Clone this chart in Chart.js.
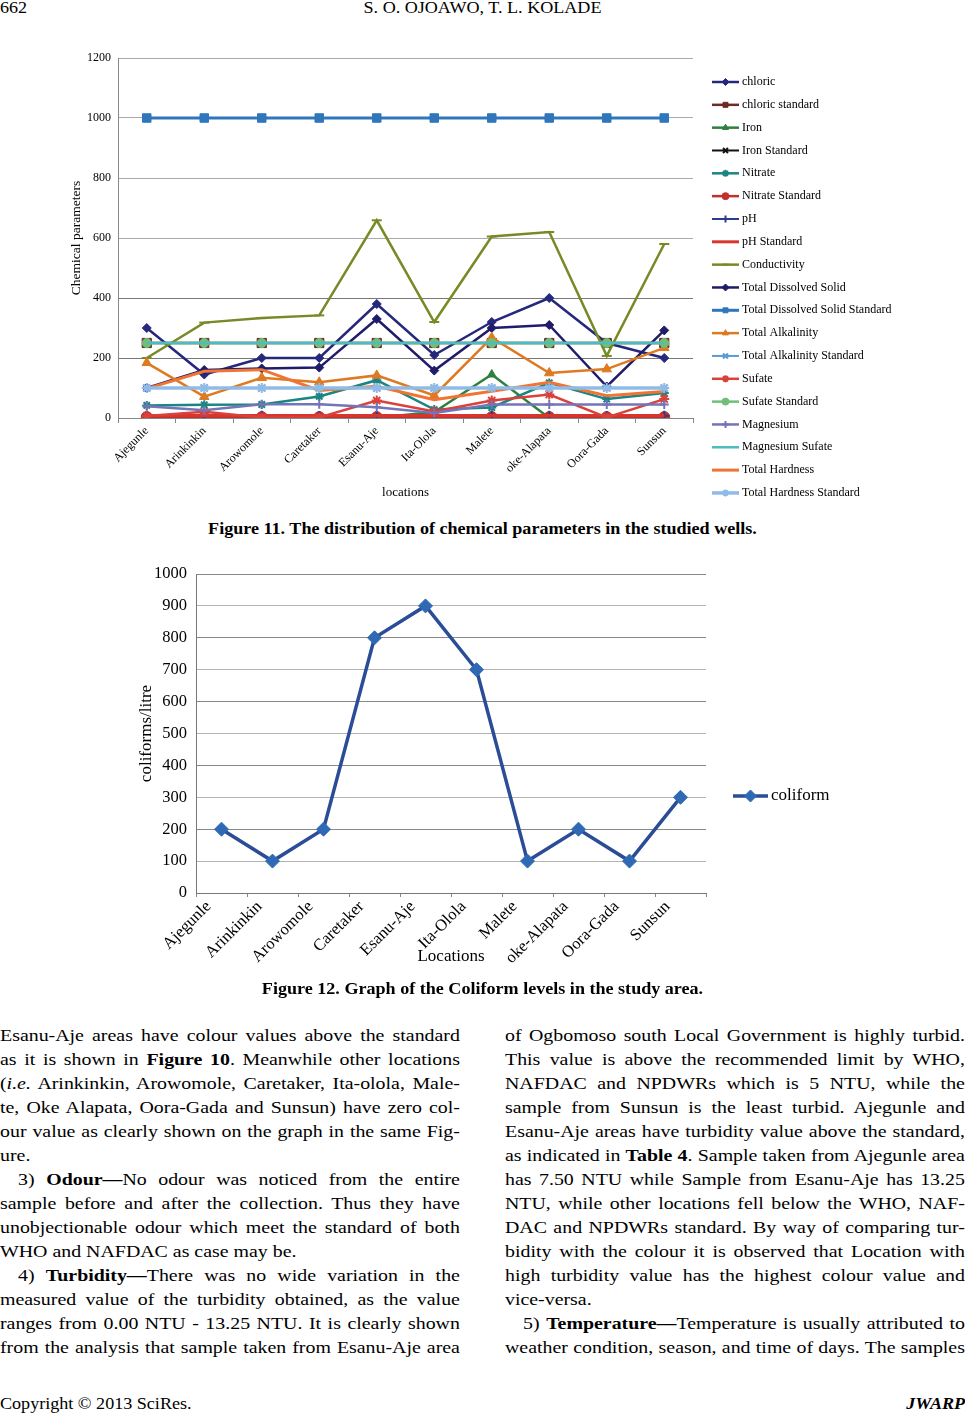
<!DOCTYPE html>
<html>
<head>
<meta charset="utf-8">
<script src="https://cdn.jsdelivr.net/npm/chart.js@4.4.1/dist/chart.umd.min.js"></script>
<style>
  html, body { margin: 0; padding: 0; background: #fff; }
  body { width: 965px; height: 1414px; position: relative; overflow: hidden;
         font-family: "Liberation Serif", "Times New Roman", serif; color: #000; }
  .abs { position: absolute; white-space: nowrap; }
  .wide { transform: scaleX(1.13); }
  canvas { position: absolute; left: 0; }
  .col { position: absolute; width: 407px; font-size: 17.6px; line-height: 24px;
         transform: scaleX(1.13); transform-origin: 0 0; }
  .col div { text-align: justify; text-align-last: justify; white-space: nowrap; }
  .col div.end { text-align-last: left; }
  .col div.ind { padding-left: 16px; }
</style>
</head>
<body>

<div class="abs wide" style="left:0;top:-1px;font-size:16px;transform-origin:0 0;">662</div>
<div class="abs wide" style="left:0;width:965px;top:-1px;font-size:16px;text-align:center;">S. O. OJOAWO, T. L. KOLADE</div>

<canvas id="chem" width="965" height="470" style="top:40px;"></canvas>
<div class="abs wide" style="left:0;width:965px;top:520px;font-size:16px;font-weight:bold;text-align:center;">Figure 11. The distribution of chemical parameters in the studied wells.</div>

<canvas id="coli" width="965" height="430" style="top:555px;"></canvas>
<div class="abs wide" style="left:0;width:965px;top:980px;font-size:16px;font-weight:bold;text-align:center;">Figure 12. Graph of the Coliform levels in the study area.</div>

<div class="col" style="left:0;top:1023px;">
  <div>Esanu-Aje areas have colour values above the standard</div>
  <div>as it is shown in <b>Figure 10</b>. Meanwhile other locations</div>
  <div>(<i>i.e.</i> Arinkinkin, Arowomole, Caretaker, Ita-olola, Male-</div>
  <div>te, Oke Alapata, Oora-Gada and Sunsun) have zero col-</div>
  <div>our value as clearly shown on the graph in the same Fig-</div>
  <div class="end">ure.</div>
  <div class="ind">3) <b>Odour—</b>No odour was noticed from the entire</div>
  <div>sample before and after the collection. Thus they have</div>
  <div>unobjectionable odour which meet the standard of both</div>
  <div class="end">WHO and NAFDAC as case may be.</div>
  <div class="ind">4) <b>Turbidity—</b>There was no wide variation in the</div>
  <div>measured value of the turbidity obtained, as the value</div>
  <div>ranges from 0.00 NTU - 13.25 NTU. It is clearly shown</div>
  <div>from the analysis that sample taken from Esanu-Aje area</div>
</div>

<div class="col" style="left:505px;top:1023px;">
  <div>of Ogbomoso south Local Government is highly turbid.</div>
  <div>This value is above the recommended limit by WHO,</div>
  <div>NAFDAC and NPDWRs which is 5 NTU, while the</div>
  <div>sample from Sunsun is the least turbid. Ajegunle and</div>
  <div>Esanu-Aje areas have turbidity value above the standard,</div>
  <div>as indicated in <b>Table 4</b>. Sample taken from Ajegunle area</div>
  <div>has 7.50 NTU while Sample from Esanu-Aje has 13.25</div>
  <div>NTU, while other locations fell below the WHO, NAF-</div>
  <div>DAC and NPDWRs standard. By way of comparing tur-</div>
  <div>bidity with the colour it is observed that Location with</div>
  <div>high turbidity value has the highest colour value and</div>
  <div class="end">vice-versa.</div>
  <div class="ind">5) <b>Temperature—</b>Temperature is usually attributed to</div>
  <div>weather condition, season, and time of days. The samples</div>
</div>

<div class="abs wide" style="left:0;top:1395px;font-size:16px;transform-origin:0 0;">Copyright © 2013 SciRes.</div>
<div class="abs wide" style="right:0;top:1395px;font-size:16px;font-weight:bold;font-style:italic;transform-origin:100% 0;">JWARP</div>

<script>
/* ================= DATA ================= */
const locations = ["Ajegunle", "Arinkinkin", "Arowomole", "Caretaker", "Esanu-Aje",
                   "Ita-Olola", "Malete", "oke-Alapata", "Oora-Gada", "Sunsun"];

const chloric          = [300, 145, 200, 200, 380, 210, 320, 400, 250, 200];
const chloricStd       = [250, 250, 250, 250, 250, 250, 250, 250, 250, 250];
const iron             = [0.3, 0.5, 0.2, 0.4, 0.6, 20, 145, 0.2, 0.1, 0.3];
const ironStd          = [0.3, 0.3, 0.3, 0.3, 0.3, 0.3, 0.3, 0.3, 0.3, 0.3];
const nitrate          = [42, 44, 45, 72, 126, 28, 35, 117, 63, 83];
const nitrateStd       = [3, 3, 3, 3, 3, 3, 3, 3, 3, 3];
const ph               = [7.1, 6.8, 7.2, 6.9, 7.4, 7.0, 6.7, 7.3, 6.9, 7.1];
const phStd            = [8.5, 8.5, 8.5, 8.5, 8.5, 8.5, 8.5, 8.5, 8.5, 8.5];
const conductivity     = [200, 318, 333, 342, 659, 320, 605, 620, 207, 580];
const tds              = [100, 160, 165, 168, 330, 158, 300, 310, 105, 292];
const tdsStd           = [1000, 1000, 1000, 1000, 1000, 1000, 1000, 1000, 1000, 1000];
const alkalinity       = [184, 71, 134, 119, 142, 75, 268, 150, 163, 234];
const alkalinityStd    = [100, 100, 100, 100, 100, 100, 100, 100, 100, 100];
const sulfate          = [7, 21, 2, 2, 58, 22, 58, 78, 2, 63];
const sulfateStd       = [250, 250, 250, 250, 250, 250, 250, 250, 250, 250];
const magnesium        = [39, 26, 46, 46, 36, 17, 45, 45, 45, 45];
const magnesiumSulfate = [250, 250, 250, 250, 250, 250, 250, 250, 250, 250];
const hardness         = [98, 156, 161, 92, 106, 61, 89, 119, 74, 88];
const hardnessStd      = [100, 100, 100, 100, 100, 100, 100, 100, 100, 100];

const chemTicks = [0, 200, 400, 600, 800, 1000, 1200];

const coliform = [200, 100, 200, 800, 900, 700, 100, 200, 100, 300];

/* ================= DEFAULTS ================= */
Chart.defaults.font.family = '"Liberation Serif", "Times New Roman", serif';
Chart.defaults.color = "#000";
Chart.defaults.animation = false;

/* ================= LEGEND (line + marker, excel style) ================= */
const lineLegend = {
    id: "lineLegend",
    afterDraw(chart, args, opts) {
        const ctx = chart.ctx;
        ctx.save();
        ctx.font = opts.font;
        ctx.textBaseline = "middle";
        chart.data.datasets.forEach((ds, i) => {
            const y = opts.y + i * opts.spacing;
            ctx.strokeStyle = ds.borderColor;
            ctx.lineWidth = ds.borderWidth;
            ctx.beginPath();
            ctx.moveTo(opts.x, y);
            ctx.lineTo(opts.x + opts.len, y);
            ctx.stroke();
            if (ds.pointStyle && ds.pointRadius > 0) {
                ctx.fillStyle = ds.pointBackgroundColor;
                ctx.strokeStyle = ds.pointBorderColor;
                ctx.lineWidth = ds.pointBorderWidth || 1;
                Chart.helpers.drawPoint(ctx, {
                    pointStyle: ds.pointStyle,
                    radius: opts.markerRadius || ds.pointRadius,
                    rotation: 0,
                    borderWidth: ds.pointBorderWidth || 1
                }, opts.x + opts.len / 2, y);
            }
            ctx.fillStyle = "#000";
            ctx.fillText(ds.label, opts.x + opts.len + opts.gap, y);
        });
        ctx.restore();
    }
};

function series(label, data, color, style, radius, width, idx) {
    return {
        label: label,
        data: data,
        borderColor: color,
        backgroundColor: color,
        pointBackgroundColor: color,
        pointBorderColor: color,
        pointBorderWidth: style === "star" || style === "cross" || style === "crossRot" || style === "line" ? 2 : 1,
        pointStyle: style || false,
        pointRadius: style ? radius : 0,
        borderWidth: width,
        tension: 0,
        order: 30 - idx
    };
}

/* ================= CHART 1 ================= */
const chemSeries = [
    ["chloric", chloric, "#26287c", "rectRot", 4.5, 2.5],
    ["chloric standard", chloricStd, "#6e2a26", "rect", 6.5, 2.5],
    ["Iron", iron, "#2f7f3f", "triangle", 5, 2.5],
    ["Iron Standard", ironStd, "#111111", "crossRot", 4, 2],
    ["Nitrate", nitrate, "#1a8582", "star", 4.5, 2.5],
    ["Nitrate Standard", nitrateStd, "#c3302c", "circle", 5.5, 2.5],
    ["pH", ph, "#2d3b8e", "cross", 5, 2],
    ["pH Standard", phStd, "#d8352e", false, 0, 3],
    ["Conductivity", conductivity, "#768a26", "line", 5, 2.5],
    ["Total Dissolved Solid", tds, "#201c6a", "rectRot", 4.5, 2.5],
    ["Total Dissolved Solid Standard", tdsStd, "#2f76bb", "rect", 6, 3],
    ["Total Alkalinity", alkalinity, "#dd7a22", "triangle", 5.5, 2.5],
    ["Total Alkalinity Standard", alkalinityStd, "#5b9bd5", "crossRot", 5, 2],
    ["Sufate", sulfate, "#d9413a", "star", 5, 2.5],
    ["Sufate Standard", sulfateStd, "#6fbf76", "circle", 4.5, 2.5],
    ["Magnesium", magnesium, "#7474b8", "cross", 4.5, 2.5],
    ["Magnesium Sufate", magnesiumSulfate, "#4cbcc0", false, 0, 2.5],
    ["Total Hardness", hardness, "#f07434", false, 0, 3],
    ["Total Hardness Standard", hardnessStd, "#8fbbe6", "star", 5, 3.5]
];

new Chart(document.getElementById("chem"), {
    type: "line",
    data: {
        labels: locations,
        datasets: chemSeries.map((s, i) => series(s[0], s[1], s[2], s[3], s[4], s[5], i))
    },
    options: {
        responsive: false,
        layout: { padding: { top: 18, right: 272, left: 0, bottom: 0 } },
        plugins: {
            legend: { display: false },
            tooltip: { enabled: false },
            lineLegend: {
                x: 712, y: 42, spacing: 22.83, len: 27, gap: 3,
                font: '12px "Liberation Serif", "Times New Roman", serif',
                markerRadius: 3.5
            }
        },
        scales: {
            x: {
                offset: true,
                grid: { display: true, offset: true, drawOnChartArea: false, tickLength: 5, color: "#888" },
                border: { color: "#888" },
                ticks: { maxRotation: 45, minRotation: 45, font: { size: 12 }, padding: 1, autoSkip: false },
                title: { display: true, text: "locations", font: { size: 13 }, padding: { top: 0, bottom: 10 } },
                afterFit: s => { s.height = 92; }
            },
            y: {
                min: 0, max: 1200,
                afterBuildTicks: s => { s.ticks = chemTicks.map(v => ({ value: v })); },
                grid: { color: c => (c.tick.value <= 400 ? "#777" : "#aaa"), drawTicks: false },
                border: { color: "#888" },
                ticks: { font: { size: 12 }, padding: 7, callback: v => String(v) },
                title: { display: true, text: "Chemical parameters", font: { size: 13.5 }, padding: { top: 68, bottom: 0 } },
                afterFit: s => { s.width = 118; }
            }
        }
    },
    plugins: [lineLegend]
});

/* ================= CHART 2 ================= */
new Chart(document.getElementById("coli"), {
    type: "line",
    data: {
        labels: locations,
        datasets: [{
            label: "coliform",
            data: coliform,
            borderColor: "#2b4c96",
            borderWidth: 3.5,
            pointStyle: "rectRot",
            pointRadius: 7,
            pointBackgroundColor: "#2f69b3",
            pointBorderColor: "#2f69b3",
            pointBorderWidth: 1,
            tension: 0
        }]
    },
    options: {
        responsive: false,
        layout: { padding: { top: 19, right: 259, left: 0, bottom: 0 } },
        plugins: {
            legend: { display: false },
            tooltip: { enabled: false },
            lineLegend: {
                x: 733, y: 241, spacing: 0, len: 35, gap: 3,
                font: '17px "Liberation Serif", "Times New Roman", serif',
                markerRadius: 6
            }
        },
        scales: {
            x: {
                offset: true,
                grid: { display: true, offset: true, drawOnChartArea: false, tickLength: 4, color: "#888" },
                border: { color: "#777" },
                ticks: { maxRotation: 45, minRotation: 45, font: { size: 16.5 }, padding: 0, labelOffset: -13, autoSkip: false },
                title: { display: true, text: "Locations", font: { size: 17 }, padding: { top: 0, bottom: 18 } },
                afterFit: s => { s.height = 92; }
            },
            y: {
                min: 0, max: 1000,
                ticks: { stepSize: 100, font: { size: 16.5 }, padding: 9, callback: v => String(v) },
                grid: { color: c => (c.tick.value % 200 === 0 ? "#888" : "#b4b4b4"), drawTicks: false },
                border: { color: "#777" },
                title: { display: true, text: "coliforms/litre", font: { size: 17 }, padding: { top: 136, bottom: 0 } },
                afterFit: s => { s.width = 196; }
            }
        }
    },
    plugins: [lineLegend]
});
</script>
</body>
</html>
